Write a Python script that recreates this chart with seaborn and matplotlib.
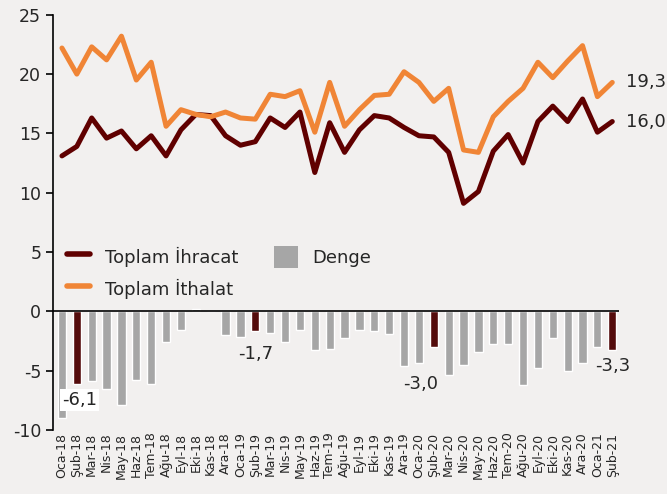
import numpy as np
import pandas as pd
import seaborn as sns
import matplotlib.pyplot as plt
from matplotlib.lines import Line2D
from matplotlib.patches import Patch

aylar = ['Oca-18', 'Şub-18', 'Mar-18', 'Nis-18', 'May-18', 'Haz-18', 'Tem-18', 'Ağu-18',
         'Eyl-18', 'Eki-18', 'Kas-18', 'Ara-18', 'Oca-19', 'Şub-19', 'Mar-19', 'Nis-19',
         'May-19', 'Haz-19', 'Tem-19', 'Ağu-19', 'Eyl-19', 'Eki-19', 'Kas-19', 'Ara-19',
         'Oca-20', 'Şub-20', 'Mar-20', 'Nis-20', 'May-20', 'Haz-20', 'Tem-20', 'Ağu-20',
         'Eyl-20', 'Eki-20', 'Kas-20', 'Ara-20', 'Oca-21', 'Şub-21']

ihracat = [13.1, 13.9, 16.3, 14.6, 15.2, 13.7, 14.8, 13.1, 15.3, 16.6, 16.5, 14.8, 14.0,
           14.3, 16.3, 15.5, 16.8, 11.7, 15.9, 13.4, 15.3, 16.5, 16.3, 15.5, 14.8, 14.7,
           13.4, 9.1, 10.1, 13.5, 14.9, 12.5, 16.0, 17.3, 16.0, 17.9, 15.1, 16.0]

ithalat = [22.2, 20.0, 22.3, 21.2, 23.2, 19.5, 21.0, 15.6, 17.0, 16.6, 16.4, 16.8, 16.3,
           16.2, 18.3, 18.1, 18.6, 15.1, 19.3, 15.6, 17.0, 18.2, 18.3, 20.2, 19.3, 17.7,
           18.8, 13.6, 13.4, 16.4, 17.7, 18.8, 21.0, 19.7, 21.1, 22.4, 18.1, 19.3]

denge = [-9.0, -6.1, -5.9, -6.6, -7.9, -5.8, -6.1, -2.6, -1.6, 0.2, 0.05, -2.0, -2.2,
         -1.7, -1.8, -2.6, -1.6, -3.3, -3.2, -2.3, -1.6, -1.7, -1.9, -4.6, -4.4, -3.0,
         -5.4, -4.5, -3.4, -2.8, -2.8, -6.2, -4.8, -2.3, -5.0, -4.4, -3.0, -3.3]

# subat aylari koyu renkli
vurgu = ['Şub' if a.startswith('Şub') else 'Diğer' for a in aylar]

koyu = '#600000'
turuncu = '#F08536'
gri = '#A6A6A6'
arka = '#F2F0EF'

df = pd.DataFrame({'ay': aylar, 'idx': np.arange(len(aylar)), 'ihracat': ihracat,
                   'ithalat': ithalat, 'denge': denge, 'grup': vurgu})

sns.set_style('white')
plt.rcParams['font.family'] = ['DejaVu Sans']
plt.rcParams['axes.unicode_minus'] = False


def etiket(v):
    return f'{v:.1f}'.replace('.', ',')


fig = plt.figure(figsize=(6.67, 4.94), dpi=100, facecolor=arka)
ax = fig.add_axes([0.0795, 0.130, 0.8485, 0.840])
ax.set_facecolor(arka)

sns.barplot(data=df, x='ay', y='denge', hue='grup', order=aylar, dodge=False,
            palette={'Şub': koyu, 'Diğer': gri}, width=0.55, legend=False, ax=ax)
sns.lineplot(data=df, x='idx', y='ihracat', color=koyu, lw=3.6, sort=False, ax=ax)
sns.lineplot(data=df, x='idx', y='ithalat', color=turuncu, lw=3.6, sort=False, ax=ax)

ax.axhline(0, color='black', lw=1.2, zorder=1)
ax.set_xlim(-0.6, 37.45)
ax.set_ylim(-10, 25)
ax.set_yticks([-10, -5, 0, 5, 10, 15, 20, 25])
ax.set_xticks(np.arange(len(aylar)))
ax.set_xticklabels(aylar, rotation=90, fontsize=9)
ax.tick_params(axis='y', labelsize=12.5, direction='out', length=5, width=1.2, left=True, color='black')
ax.tick_params(axis='x', length=0, pad=2)
ax.set_xlabel('')
ax.set_ylabel('')
for s in ['top', 'right', 'bottom']:
    ax.spines[s].set_visible(False)
ax.spines['left'].set_color('black')
ax.spines['left'].set_linewidth(1.2)

# son deger etiketleri
ax.text(37.9, ithalat[-1], etiket(ithalat[-1]), fontsize=13, va='center', ha='left')
ax.text(37.9, ihracat[-1], etiket(ihracat[-1]), fontsize=13, va='center', ha='left')

# subat denge etiketleri
ax.text(1.2, -7.5, etiket(denge[1]), fontsize=13, ha='center', va='center',
        bbox=dict(facecolor='white', edgecolor='none', pad=1.5))
ax.text(13, -3.6, etiket(denge[13]), fontsize=13, ha='center', va='center')
ax.text(24.1, -6.1, etiket(denge[25]), fontsize=13, ha='center', va='center')
ax.text(37.0, -4.6, etiket(denge[37]), fontsize=13, ha='center', va='center')

handles = [Line2D([0], [0], color=koyu, lw=4, solid_capstyle='round'),
           Line2D([0], [0], color=turuncu, lw=4, solid_capstyle='round'),
           Patch(facecolor=gri, edgecolor='none')]
ax.legend(handles, ['Toplam İhracat', 'Toplam İthalat', 'Denge'], ncol=2, loc='upper left',
          bbox_to_anchor=(0.005, 0.47), frameon=True, facecolor=arka, edgecolor='none',
          framealpha=1, fontsize=13, handlelength=1.3, handleheight=1.5, columnspacing=2.0,
          borderaxespad=0.2, labelspacing=0.55, handletextpad=0.8)

fig.savefig('out.png', dpi=100, facecolor=arka)
